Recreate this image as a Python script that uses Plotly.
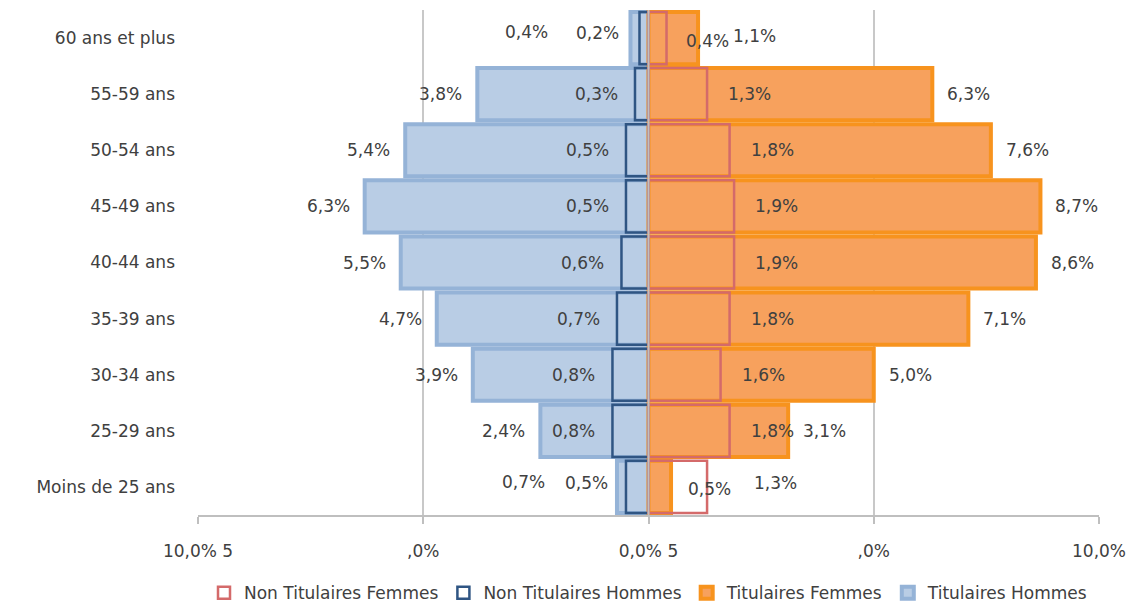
import plotly.graph_objects as go

categories = ["Moins de 25 ans", "25-29 ans", "30-34 ans", "35-39 ans", "40-44 ans",
              "45-49 ans", "50-54 ans", "55-59 ans", "60 ans et plus"]
tit_hommes = [0.7, 2.4, 3.9, 4.7, 5.5, 6.3, 5.4, 3.8, 0.4]
nontit_hommes = [0.5, 0.8, 0.8, 0.7, 0.6, 0.5, 0.5, 0.3, 0.2]
tit_femmes = [0.5, 3.1, 5.0, 7.1, 8.6, 8.7, 7.6, 6.3, 1.1]
nontit_femmes = [1.3, 1.8, 1.6, 1.8, 1.9, 1.9, 1.8, 1.3, 0.4]
tick_vals = [-10, -5, 0, 5, 10]
tick_text = ["10,0% 5", ",0%", "0,0% 5", ",0%", "10,0%"]

FONT = "DejaVu Sans"
TXT = "#404040"

# label placement style (pixel shifts): default per series, with overrides for crowded rows
default_shift = {"th": (-13, 0), "nh": (-15, 0), "tf": (13, 0), "nf": (19, 0)}
override_shift = {
    ("th", "60 ans et plus"): (-80, 6), ("nh", "60 ans et plus"): (-18, 5),
    ("tf", "60 ans et plus"): (33, 2), ("nf", "60 ans et plus"): (17, -3),
    ("th", "Moins de 25 ans"): (-70, 5), ("nh", "Moins de 25 ans"): (-16, 4),
    ("tf", "Moins de 25 ans"): (15, -2), ("nf", "Moins de 25 ans"): (45, 4),
}

def fmt(v):
    return f"{v:.1f}%".replace(".", ",")

fig = go.Figure()
W = 0.93
fig.add_trace(go.Bar(y=categories, x=[-v for v in tit_hommes], orientation="h", name="Titulaires Hommes",
                     marker=dict(color="#B9CDE5", line=dict(color="#95B3D7", width=4)), width=W))
fig.add_trace(go.Bar(y=categories, x=tit_femmes, orientation="h", name="Titulaires Femmes",
                     marker=dict(color="#F7A15D", line=dict(color="#F7931E", width=4)), width=W))
fig.add_trace(go.Bar(y=categories, x=[-v for v in nontit_hommes], orientation="h", name="Non Titulaires Hommes",
                     marker=dict(color="rgba(0,0,0,0)", line=dict(color="#2F5583", width=2.5)), width=W))
fig.add_trace(go.Bar(y=categories, x=nontit_femmes, orientation="h", name="Non Titulaires Femmes",
                     marker=dict(color="rgba(0,0,0,0)", line=dict(color="#D46A6A", width=2.5)), width=W))

ann = []
series = [("th", tit_hommes, -1, "right"), ("nh", nontit_hommes, -1, "right"),
          ("tf", tit_femmes, 1, "left"), ("nf", nontit_femmes, 1, "left")]
for key, vals, sign, anchor in series:
    for c, v in zip(categories, vals):
        dx, dy = override_shift.get((key, c), default_shift[key])
        ann.append(dict(x=sign * v, y=c, text=fmt(v), xanchor=anchor, xshift=dx, yshift=dy,
                        showarrow=False, font=dict(family=FONT, size=17, color=TXT)))

fig.update_layout(
    barmode="overlay",
    width=1130, height=604,
    margin=dict(l=198, r=31, t=10, b=89, autoexpand=False),
    plot_bgcolor="white", paper_bgcolor="white",
    font=dict(family=FONT, size=17, color=TXT),
    annotations=ann,
    legend=dict(orientation="h", x=0.5, xanchor="center", y=-0.119, yanchor="top",
                traceorder="reversed", font=dict(family=FONT, size=17, color=TXT),
                itemwidth=30),
    shapes=[dict(type="line", xref="x", yref="paper", x0=0, x1=0, y0=0, y1=1,
                 line=dict(color="#BFBFBF", width=2), layer="above")],
    showlegend=True,
)
fig.update_xaxes(range=[-10, 10], tickvals=tick_vals, ticktext=tick_text, automargin=False,
                 showgrid=True, gridcolor="#C8C8C8", gridwidth=1.5, zeroline=False,
                 showline=True, linecolor="#BFBFBF", linewidth=2,
                 ticks="outside", ticklen=7, tickcolor="#BFBFBF", tickwidth=2,
                 ticklabelstandoff=13,
                 tickfont=dict(family=FONT, size=17, color=TXT))
fig.update_yaxes(categoryorder="array", categoryarray=categories, showgrid=False, automargin=False,
                 showline=False, ticks="", ticklabelstandoff=22,
                 tickfont=dict(family=FONT, size=17, color=TXT))

# remove the default 8px page margin so the 1130x604 figure fills the window exactly
fig.write_html("out.html", config={"displayModeBar": False},
               post_script="document.body.style.margin='0px';document.body.style.overflow='hidden';")
